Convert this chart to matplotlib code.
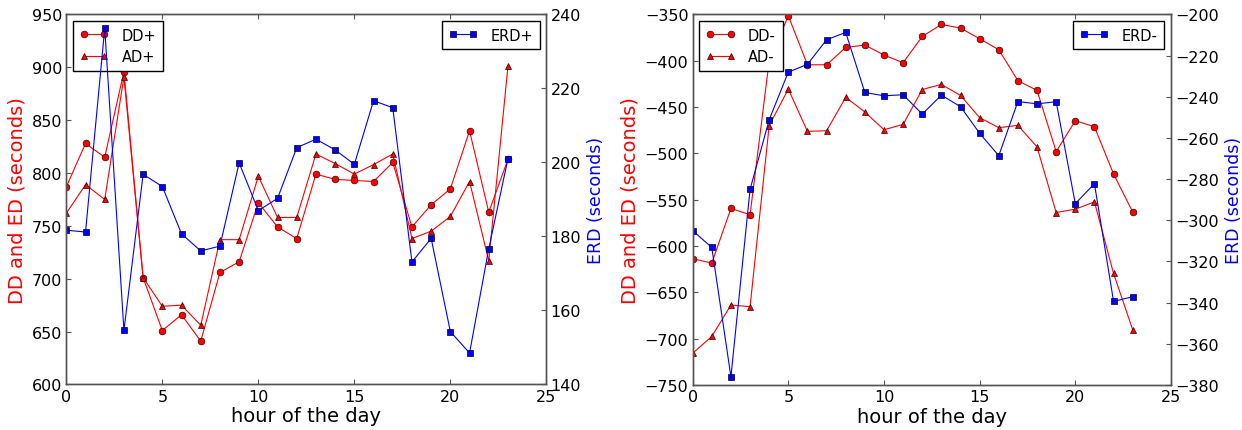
import matplotlib
matplotlib.use("Agg")
import matplotlib.pyplot as plt
import numpy as np

hours = list(range(24))

dd_plus = [787, 828, 815, 896, 701, 651, 666, 641, 706, 716, 772, 749, 738, 799,
           794, 793, 792, 810, 749, 770, 785, 840, 763, 813]
ad_plus = [762, 789, 775, 891, 701, 674, 675, 656, 737, 737, 797, 758, 758, 818,
           809, 799, 808, 818, 738, 745, 759, 792, 717, 901]
erd_plus = [181.7, 181.2, 236.3, 154.6, 196.8, 193.5, 180.7, 176.1, 177.4, 199.9,
            187.0, 190.3, 204.0, 206.3, 203.4, 199.5, 216.7, 214.8, 173.1, 179.5,
            154.3, 148.5, 176.7, 201.0]

dd_minus = [-613.6, -618.4, -559.4, -566.2, -400.0, -351.5, -404.3, -404.3, -385.6,
            -383.0, -393.8, -402.1, -373.7, -360.8, -364.7, -376.2, -388.0, -421.5,
            -432.0, -498.0, -464.7, -471.2, -522.2, -563.2]
ad_minus = [-715.8, -697.5, -663.7, -665.4, -470.0, -430.5, -476.2, -475.5, -439.5,
            -455.3, -474.4, -468.7, -431.0, -425.5, -437.4, -461.4, -472.2, -469.7,
            -493.0, -563.8, -560.2, -552.3, -629.6, -690.3]
erd_minus = [-305.0, -313.2, -376.0, -285.0, -251.1, -228.0, -224.2, -212.3, -208.7,
             -237.9, -239.5, -239.0, -248.4, -239.2, -244.8, -257.7, -268.6, -242.3,
             -243.4, -242.4, -291.9, -282.2, -339.4, -337.1]

xticks = [0, 5, 10, 15, 20, 25]
left_yticks_plus = [600, 650, 700, 750, 800, 850, 900, 950]
right_yticks_plus = [140, 160, 180, 200, 220, 240]
left_yticks_minus = [-750, -700, -650, -600, -550, -500, -450, -400, -350]
right_yticks_minus = [-380, -360, -340, -320, -300, -280, -260, -240, -220, -200]

plt.rcParams['font.family'] = ['DejaVu Sans']
plt.rcParams['xtick.direction'] = 'in'
plt.rcParams['ytick.direction'] = 'in'

fig = plt.figure(figsize=(12.42, 4.31), dpi=100, facecolor='white')

spine_color = '#555555'
tick_fs = 11.5
label_fs = 14
leg_fs = 10.5
ms = 4.8
lw = 0.8
medge = '#330000'


def style_axes(ax):
    for s in ax.spines.values():
        s.set_color(spine_color)
        s.set_linewidth(1.0)
    ax.tick_params(length=3.5, width=0.8, color=spine_color, labelsize=tick_fs, pad=3)


def make_panel(rect, dd, ad, erd, ddlab, adlab, erdlab, lyt, ryt):
    ax = fig.add_axes(rect)
    ax.plot(hours, dd, color='red', marker='o', markersize=ms, lw=lw,
            markeredgecolor=medge, markeredgewidth=0.5, label=ddlab)
    ax.plot(hours, ad, color='red', marker='^', markersize=ms, lw=lw,
            markeredgecolor=medge, markeredgewidth=0.5, label=adlab)
    ax.set_xlim(0, 25)
    ax.set_xticks(xticks)
    ax.set_ylim(lyt[0], lyt[-1])
    ax.set_yticks(lyt)
    ax.set_xlabel('hour of the day', fontsize=label_fs, labelpad=2)
    ax.set_ylabel('DD and ED (seconds)', fontsize=label_fs, color='red', labelpad=4)
    ax.tick_params(top=True, right=False)
    style_axes(ax)
    leg = ax.legend(loc='upper left', numpoints=2, fontsize=leg_fs, fancybox=False,
                    framealpha=1, edgecolor='black', borderpad=0.45,
                    handlelength=2.0, handletextpad=0.9, labelspacing=0.45,
                    borderaxespad=0.45)
    leg.get_frame().set_linewidth(1.0)

    ax2 = ax.twinx()
    ax2.plot(hours, erd, color='blue', marker='s', markersize=ms, lw=lw,
             markeredgecolor='#000033', markeredgewidth=0.5, label=erdlab)
    ax2.set_ylim(ryt[0], ryt[-1])
    ax2.set_yticks(ryt)
    ax2.set_ylabel('ERD (seconds)', fontsize=12.5, color='blue', labelpad=4)
    style_axes(ax2)
    leg2 = ax2.legend(loc='upper right', numpoints=2, fontsize=leg_fs, fancybox=False,
                      framealpha=1, edgecolor='black', borderpad=0.45,
                      handlelength=2.0, handletextpad=0.9, borderaxespad=0.45)
    leg2.get_frame().set_linewidth(1.0)
    return ax, ax2


make_panel([0.0534, 0.1056, 0.3865, 0.8585], dd_plus, ad_plus, erd_plus,
           'DD+', 'AD+', 'ERD+', left_yticks_plus, right_yticks_plus)
make_panel([0.5577, 0.1044, 0.3851, 0.8597], dd_minus, ad_minus, erd_minus,
           'DD-', 'AD-', 'ERD-', left_yticks_minus, right_yticks_minus)

fig.savefig('out.png', dpi=100, facecolor='white')
